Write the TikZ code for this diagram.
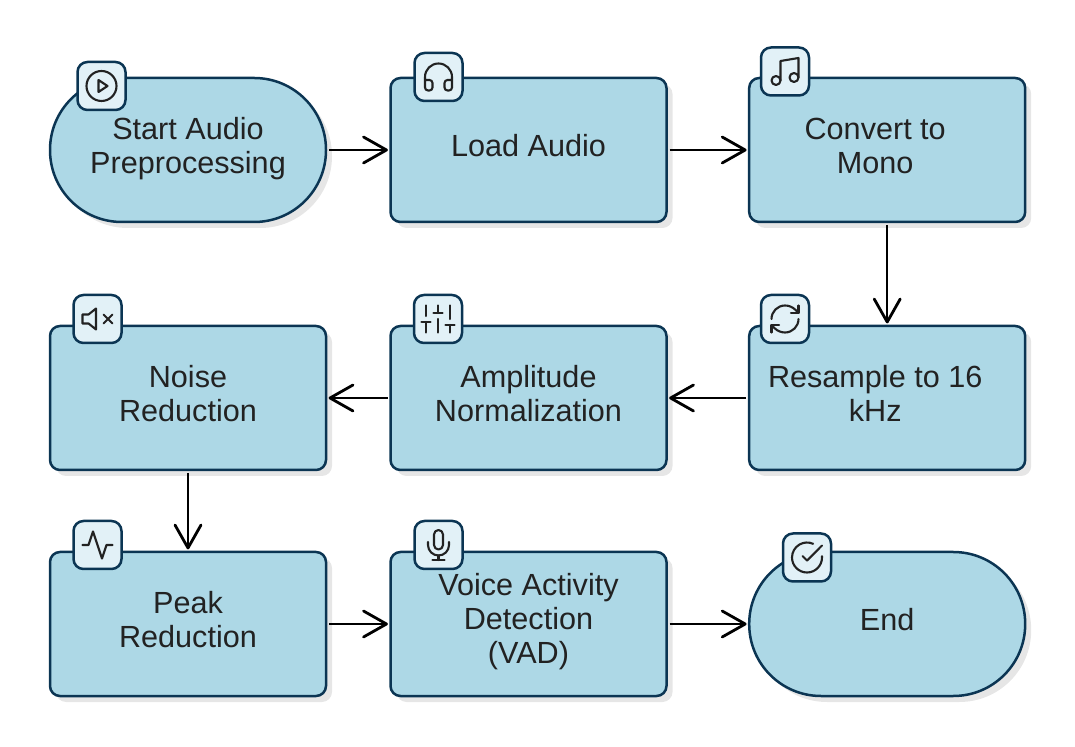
\documentclass[tikz,border=0pt]{standalone}
\usepackage{fontspec}
\setmainfont{Liberation Sans}
\usetikzlibrary{arrows.meta,shadows}
\definecolor{boxfill}{HTML}{ADD8E6}
\definecolor{boxline}{HTML}{0B3553}
\definecolor{badgefill}{HTML}{E2F1F7}
\definecolor{shadowgray}{HTML}{E6E6E6}
\definecolor{inkcol}{HTML}{222222}
\newcommand\lbl[2][0pt]{\raisebox{#1}[\height][\depth]{\begin{tabular}{@{}c@{}}#2\end{tabular}}}
\newcommand\lblL[1]{\kern-12pt\lbl{#1}}
\newenvironment{iconat}[1]{\begin{scope}[shift={(#1.center)},x=0.75pt,y=-0.75pt,shift={(-12,-12)},draw=inkcol,line width=1.05pt,line cap=round,line join=round]}{\end{scope}}
\pgfdeclarearrow{
  name=OpenV,
  setup code={
    \pgfarrowssettipend{0pt}
    \pgfarrowssetlineend{-1pt}
    \pgfarrowssetbackend{-11.5pt}
    \pgfarrowssetvisualbackend{-1pt}
    \pgfarrowshullpoint{0pt}{0pt}
    \pgfarrowshullpoint{-11.5pt}{6.5pt}
    \pgfarrowshullpoint{-11.5pt}{-6.5pt}
  },
  drawing code={
    \pgfsetdash{}{0pt}
    \pgfsetlinewidth{1.4pt}
    \pgfsetroundcap
    \pgfsetroundjoin
    \pgfpathmoveto{\pgfqpoint{-11.5pt}{6.5pt}}
    \pgfpathlineto{\pgfqpoint{0pt}{0pt}}
    \pgfpathlineto{\pgfqpoint{-11.5pt}{-6.5pt}}
    \pgfusepathqstroke
  }
}
\tikzset{
  flowbox/.style={draw=boxline,fill=boxfill,line width=1.25pt,rounded corners=5pt,minimum width=138pt,minimum height=72pt,inner sep=0pt,outer sep=0pt,text=inkcol,font=\fontsize{15.3}{17}\selectfont,general shadow={fill=shadowgray,shadow xshift=3pt,shadow yshift=-3pt,draw=none}},
  stadium/.style={flowbox,rounded corners=35.9pt},
  badge/.style={draw=boxline,fill=badgefill,line width=1.25pt,rounded corners=5pt,minimum size=24pt,inner sep=0pt,outer sep=0pt},
  flowarrow/.style={draw=black,line width=1.15pt,-{OpenV},shorten <=1.5pt,shorten >=2pt}
}
\begin{document}
\begin{tikzpicture}[x=0.5pt,y=-0.5pt]
\useasboundingbox (0,0) rectangle (1075,747);
% flow nodes
\node[stadium] (start) at (188,150) {\lbl{Start Audio\\Preprocessing}};
\node[flowbox] (load) at (528.5,150) {\lbl{Load Audio}};
\node[flowbox] (mono) at (887.2,150) {\lblL{Convert to\\Mono}};
\node[flowbox] (resample) at (887.2,398) {\lblL{Resample to 16\\kHz}};
\node[flowbox] (norm) at (528.5,398) {\lbl{Amplitude\\Normalization}};
\node[flowbox] (noise) at (188,398) {\lbl{Noise\\Reduction}};
\node[flowbox] (peak) at (188,624) {\lbl{Peak\\Reduction}};
\node[flowbox] (vad) at (528.5,624) {\lbl[0.5pt]{Voice Activity\\Detection\\(VAD)}};
\node[stadium] (end) at (887.2,624) {\lbl{End}};
% connectors
\draw[flowarrow] (start) -- (load);
\draw[flowarrow] (load) -- (mono);
\draw[flowarrow] (mono) -- (resample);
\draw[flowarrow] (resample) -- (norm);
\draw[flowarrow] (norm) -- (noise);
\draw[flowarrow] (noise) -- (peak);
\draw[flowarrow] (peak) -- (vad);
\draw[flowarrow] (vad) -- (end);
% badges
\node[badge] (bStart) at (101.5,86) {};
\node[badge] (bLoad) at (438.5,77) {};
\node[badge] (bMono) at (785,71.5) {};
\node[badge] (bRes) at (785,319) {};
\node[badge] (bNorm) at (438,319) {};
\node[badge] (bNoise) at (97.5,319) {};
\node[badge] (bPeak) at (97.5,545) {};
\node[badge] (bVad) at (438.5,545) {};
\node[badge] (bEnd) at (807,557.5) {};
% icons
\begin{iconat}{bStart}
  \draw (22,12) arc[start angle=0,end angle=360,radius=10];
  \draw (10,8) -- (16,12) -- (10,16) -- cycle;
\end{iconat}
\begin{iconat}{bLoad}
  \draw (3,14) -- (6,14) arc[start angle=-90,end angle=0,radius=2] -- (8,19) arc[start angle=0,end angle=90,radius=2] -- (5,21) arc[start angle=90,end angle=180,radius=2] -- (3,12) arc[start angle=180,end angle=360,radius=9] -- (21,19) arc[start angle=0,end angle=90,radius=2] -- (18,21) arc[start angle=90,end angle=180,radius=2] -- (16,16) arc[start angle=180,end angle=270,radius=2] -- (21,14);
\end{iconat}
\begin{iconat}{bMono}
  \draw (9,18) -- (9,5) -- (21,3) -- (21,16);
  \draw (9,18) arc[start angle=0,end angle=360,radius=3];
  \draw (21,16) arc[start angle=0,end angle=360,radius=3];
\end{iconat}
\begin{iconat}{bRes}
  \draw (3,12) arc[start angle=180,end angle=270,radius=9] arc[start angle=-90,end angle=-46,radius=9.75] -- (21,8);
  \draw (21,3) -- (21,8) -- (16,8);
  \draw (21,12) arc[start angle=0,end angle=90,radius=9] arc[start angle=90,end angle=134,radius=9.75] -- (3,16);
  \draw (8,16) -- (3,16) -- (3,21);
\end{iconat}
\begin{iconat}{bNorm}
  \draw (4,21) -- (4,14) (4,10) -- (4,3) (12,21) -- (12,12) (12,8) -- (12,3) (20,21) -- (20,16) (20,12) -- (20,3);
  \draw (1,14) -- (7,14) (9,8) -- (15,8) (17,16) -- (23,16);
\end{iconat}
\begin{iconat}{bNoise}
  \draw (11,5) -- (6,9) -- (2,9) -- (2,15) -- (6,15) -- (11,19) -- cycle;
  \draw (22,9) -- (16,15) (16,9) -- (22,15);
\end{iconat}
\begin{iconat}{bPeak}
  \draw (22,12) -- (18,12) -- (15,21) -- (9,3) -- (6,12) -- (2,12);
\end{iconat}
\begin{iconat}{bVad}
  \draw (12,2) arc[start angle=-90,end angle=-180,radius=3] -- (9,12) arc[start angle=180,end angle=0,radius=3] -- (15,5) arc[start angle=0,end angle=-90,radius=3] -- cycle;
  \draw (19,10) -- (19,12) arc[start angle=0,end angle=180,radius=7] -- (5,10);
  \draw (12,19) -- (12,22) (8,22) -- (16,22);
\end{iconat}
\begin{iconat}{bEnd}
  \draw (22,11.08) -- (22,12) arc[start angle=0,end angle=294,radius=10];
  \draw (22,4) -- (12,14.01) -- (9,11.01);
\end{iconat}
\end{tikzpicture}
\end{document}
